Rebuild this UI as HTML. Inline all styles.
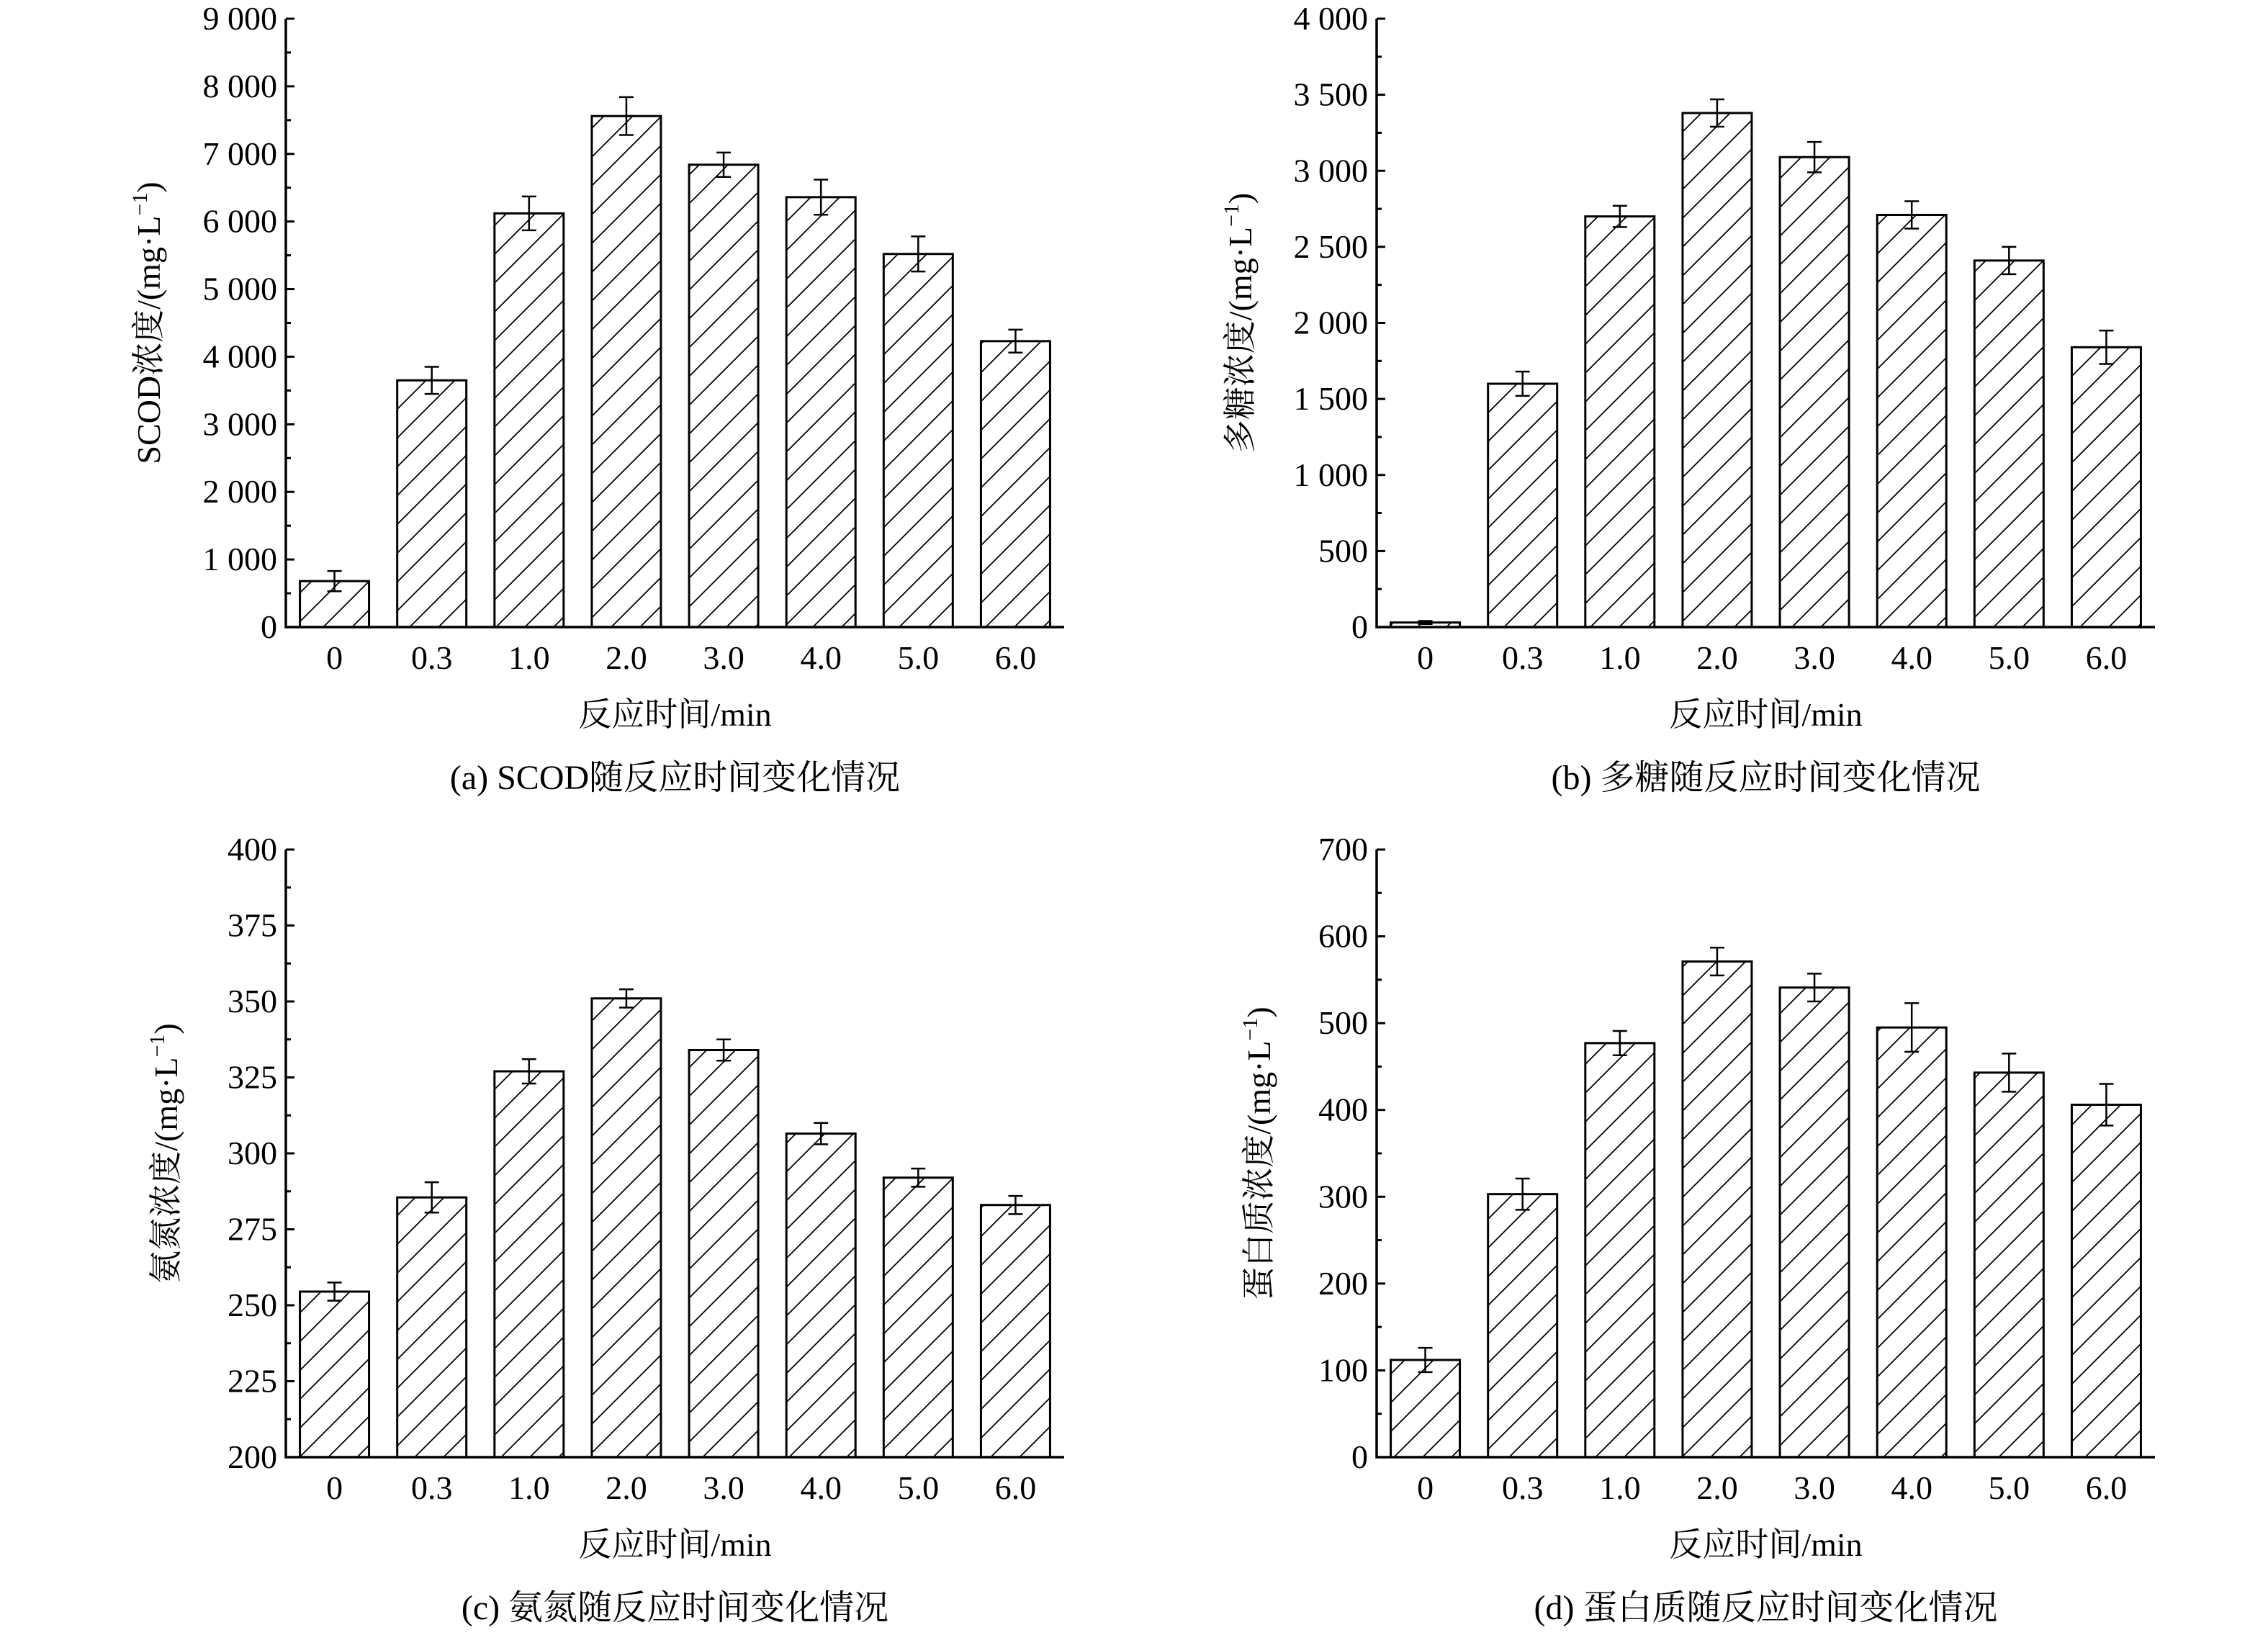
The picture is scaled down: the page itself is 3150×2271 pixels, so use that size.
<!DOCTYPE html>
<html><head><meta charset="utf-8">
<style>
html,body{margin:0;padding:0;background:#fff;}
svg{display:block;}
text{font-family:"Liberation Serif","Noto Serif CJK SC",serif;fill:#000;}
</style></head>
<body>
<svg id="fig" width="3150" height="2271" viewBox="0 0 3150 2271" xmlns="http://www.w3.org/2000/svg">
<defs>
<pattern id="hatch" patternUnits="userSpaceOnUse" width="40" height="40">
<path d="M-10,50 L50,-10 M-10,10 L10,-10 M30,50 L50,30" stroke="#000" stroke-width="1.8"/>
</pattern>
</defs>
</svg>
<script>
const categories = ["0","0.3","1.0","2.0","3.0","4.0","5.0","6.0"];
const scodValues = [680,3650,6120,7560,6840,6360,5520,4230];
const scodErrors = [150,200,250,280,180,260,260,170];
const polyValues = [30,1600,2700,3380,3090,2710,2410,1840];
const polyErrors = [10,80,70,90,100,90,90,110];
const nh3Values = [254.5,285.5,327,351,334,306.5,292,283];
const nh3Errors = [3,5,4,3,3.5,3.5,3,3];
const protValues = [112,303,477,571,541,495,443,406];
const protErrors = [14,18,14,16,16,28,22,24];
const scodTicks = [0,1000,2000,3000,4000,5000,6000,7000,8000,9000];
const scodTickLabels = ["0","1 000","2 000","3 000","4 000","5 000","6 000","7 000","8 000","9 000"];
const polyTicks = [0,500,1000,1500,2000,2500,3000,3500,4000];
const polyTickLabels = ["0","500","1 000","1 500","2 000","2 500","3 000","3 500","4 000"];
const nh3Ticks = [200,225,250,275,300,325,350,375,400];
const nh3TickLabels = ["200","225","250","275","300","325","350","375","400"];
const protTicks = [0,100,200,300,400,500,600,700];
const protTickLabels = ["0","100","200","300","400","500","600","700"];

const NS="http://www.w3.org/2000/svg";
const svg=document.getElementById('fig');
function mk(tag,attrs,parent){const e=document.createElementNS(NS,tag);for(const k in attrs)e.setAttribute(k,attrs[k]);(parent||svg).appendChild(e);return e;}

function panel(p){
  const g=mk('g',{});
  
  
  const x0=p.x0,x1=p.x0+1081,yT=p.yT,yB=p.yB;
  const min=p.ticks[0],max=p.ticks[p.ticks.length-1];
  const yS=v=>yB-(v-min)/(max-min)*(yB-yT);
  const band=(x1-x0)/categories.length;
  const xC=i=>x0+band*(i+0.5);
  const bw=96;
  // bars
  p.values.forEach((v,i)=>{
    const r=mk('rect',{x:xC(i)-bw/2,y:yS(v),width:bw,height:yB-yS(v),fill:'url(#hatch)',stroke:'#000','stroke-width':3},g);
    
    
    const e=p.errors[i],cx=xC(i);
    const eb=mk('path',{d:`M${cx},${yS(v+e)}V${yS(v-e)}M${cx-10},${yS(v+e)}H${cx+10}M${cx-10},${yS(v-e)}H${cx+10}`,stroke:'#000','stroke-width':2.5,fill:'none'},g);
    
    
    const tl=mk('text',{x:cx,y:yB+58,'font-size':46,'text-anchor':'middle'},g);
    tl.textContent=categories[i];
    
    
  });
  // y ticks
  p.ticks.forEach((t,i)=>{
    const y=yS(t);
    mk('line',{x1:x0,x2:x0+12,y1:y,y2:y,stroke:'#000','stroke-width':3},g);
    if(i<p.ticks.length-1){const ym=yS((t+p.ticks[i+1])/2);mk('line',{x1:x0,x2:x0+7,y1:ym,y2:ym,stroke:'#000','stroke-width':3},g);}
    const tl=mk('text',{x:x0-12,y:y+15,'font-size':46,'text-anchor':'end'},g);
    tl.textContent=p.tickLabels[i];
    
    
  });
  const ax=mk('path',{d:`M${x0},${yT}V${yB}H${x1}`,stroke:'#000','stroke-width':3.5,fill:'none'},g);
  
  
  const xt=mk('text',{x:(x0+x1)/2,y:yB+137,'font-size':46,'text-anchor':'middle'},g);
  xt.textContent='反应时间/min';
  
  
  const yc=(yT+yB)/2;
  const yt=mk('text',{x:0,y:0,'font-size':46,'text-anchor':'middle',transform:`translate(${p.ytx},${yc}) rotate(-90)`},g);
  yt.innerHTML=p.ytitle+'/(mg·L<tspan dy="-18" font-size="30">−1</tspan><tspan dy="18">)</tspan>';
  
  
  const cap=mk('text',{x:(x0+x1)/2,y:yB+225,'font-size':48,'text-anchor':'middle'},g);
  cap.textContent=p.caption;
  
  
}
panel({name:'panel-a-scod',x0:397,yT:26,yB:871,values:scodValues,errors:scodErrors,ticks:scodTicks,tickLabels:scodTickLabels,ytitle:'SCOD浓度',ytx:222,caption:'(a) SCOD随反应时间变化情况'});
panel({name:'panel-b-polysaccharide',x0:1912,yT:26,yB:871,values:polyValues,errors:polyErrors,ticks:polyTicks,tickLabels:polyTickLabels,ytitle:'多糖浓度',ytx:1738,caption:'(b) 多糖随反应时间变化情况'});
panel({name:'panel-c-ammonia',x0:397,yT:1180,yB:2024,values:nh3Values,errors:nh3Errors,ticks:nh3Ticks,tickLabels:nh3TickLabels,ytitle:'氨氮浓度',ytx:246,caption:'(c) 氨氮随反应时间变化情况'});
panel({name:'panel-d-protein',x0:1912,yT:1180,yB:2024,values:protValues,errors:protErrors,ticks:protTicks,tickLabels:protTickLabels,ytitle:'蛋白质浓度',ytx:1764,caption:'(d) 蛋白质随反应时间变化情况'});
</script>
</body></html>
